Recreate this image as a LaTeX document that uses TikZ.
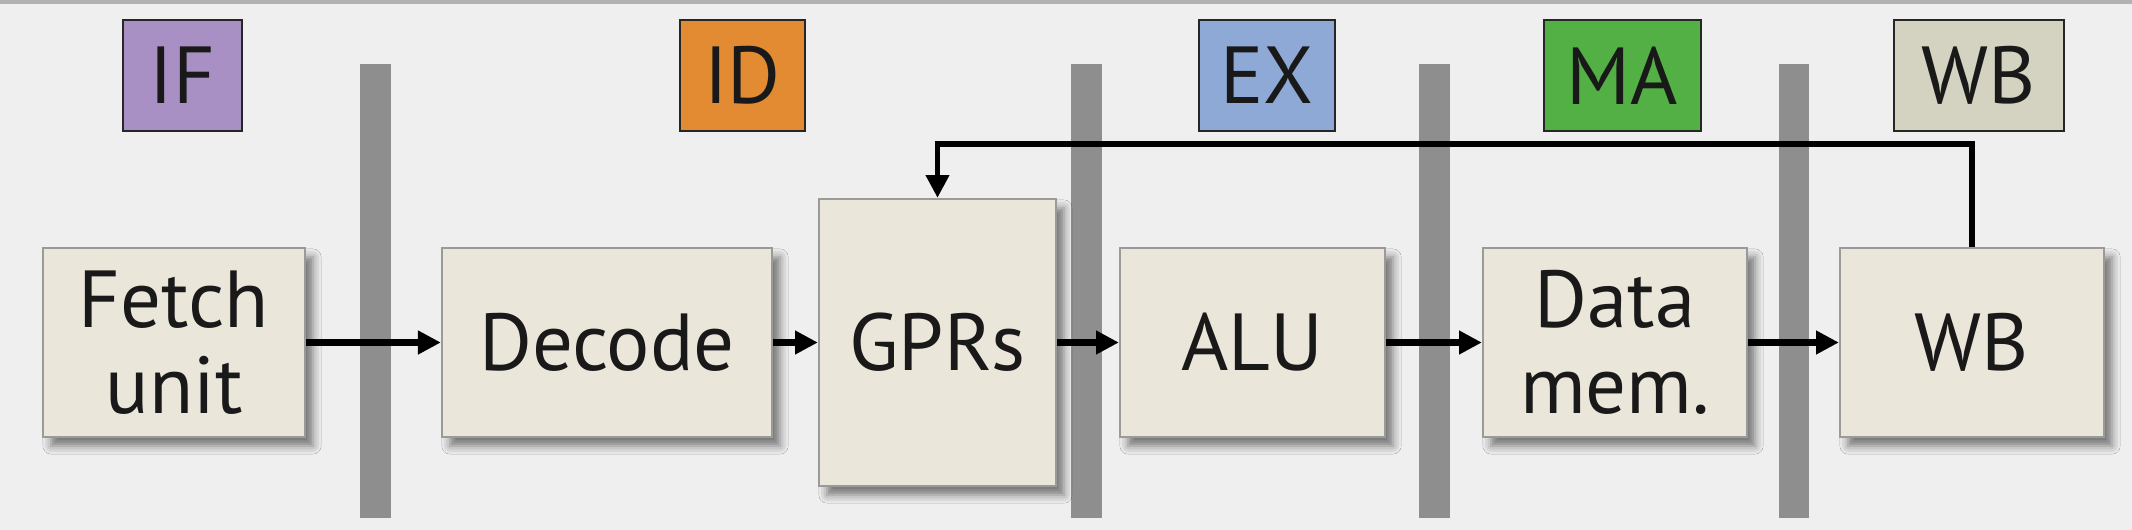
\documentclass[tikz,border=0pt]{standalone}
\usepackage{fontspec}
\setmainfont{PT Sans}
\usepackage{tikz}
\usetikzlibrary{arrows.meta,positioning,shadows.blur}
\definecolor{pBg}{HTML}{EFEFEF}
\definecolor{pBox}{HTML}{EBE6DA}
\definecolor{pEdge}{HTML}{9A9A9A}
\definecolor{pBar}{HTML}{8E8E8E}
\definecolor{pIF}{HTML}{A990C4}
\definecolor{pID}{HTML}{E38B32}
\definecolor{pEX}{HTML}{8EA9D6}
\definecolor{pMA}{HTML}{52B044}
\definecolor{pWB}{HTML}{D4D2C0}
\tikzset{
  nd/.style   = {draw=pEdge, fill=pBox, line width=0.6pt, align=center,
                 font=\fontsize{23}{24.4}\selectfont, text=black!90,
                 inner sep=0pt, minimum height=1.89cm,
                 blur shadow={shadow xshift=0.08cm, shadow yshift=-0.09cm,
                              shadow blur radius=0.08cm, shadow opacity=50}},
  stg/.style  = {draw=black!85, line width=0.8pt, inner sep=0pt,
                 font=\fontsize{23}{24.4}\selectfont, text=black!90,
                 minimum height=1.11cm},
  ar/.style   = {-{Triangle[length=6.5pt, width=6.4pt]}, line width=2pt, draw=black},
  arb/.style  = {-{Triangle[length=6.5pt, width=6.4pt]}, line width=1.6pt, draw=black},
  bar/.style  = {fill=pBar},
}

\begin{document}
\begin{tikzpicture}[x=0.01cm, y=-0.01cm]
  \fill[pBg] (0,0) rectangle (2132,530);
  \fill[black!30] (0,0) rectangle (2132,4);
  % pipeline registers
  \fill[bar] (360,64) rectangle (391,518);
  \fill[bar] (1071,64) rectangle (1102,518);
  \fill[bar] (1419,64) rectangle (1450,518);
  \fill[bar] (1779,64) rectangle (1809,518);
  % stage labels
  \node[stg, fill=pIF, minimum width=1.19cm] (sif) at (182.5,75.5) {IF};
  \node[stg, fill=pID, minimum width=1.25cm] (sid) at (742.5,75.5) {ID};
  \node[stg, fill=pEX, minimum width=1.36cm] (sex) at (1267,75.5) {EX};
  \node[stg, fill=pMA, minimum width=1.57cm] (sma) at (1622.5,75.5) {MA};
  \node[stg, fill=pWB, minimum width=1.70cm] (swb) at (1979,75.5) {WB};
  % units
  \node[nd, minimum width=2.62cm] (fetch) at (174,342.5)   {Fetch\\unit};
  \node[nd, minimum width=3.30cm] (dec)   at (607,342.5)   {Decode};
  \node[nd, minimum width=2.37cm, minimum height=2.87cm] (gpr) at (937.5,342.5) {GPRs};
  \node[nd, minimum width=2.65cm] (alu)   at (1252.5,342.5) {ALU};
  \node[nd, minimum width=2.64cm] (dmem)  at (1615,342.5)  {Data\\mem.};
  \node[nd, minimum width=2.64cm] (wb)    at (1972,342.5)  {WB};
  \draw[ar] (fetch) -- (dec);
  \draw[ar] (dec) -- (gpr);
  \draw[ar] (gpr) -- (alu);
  \draw[ar] (alu) -- (dmem);
  \draw[ar] (dmem) -- (wb);
  % write back to register file
  \coordinate (fb) at (0,144);
  \draw[arb] (wb.north) -- (wb.north |- fb) -| (gpr.north);
\end{tikzpicture}
\end{document}
